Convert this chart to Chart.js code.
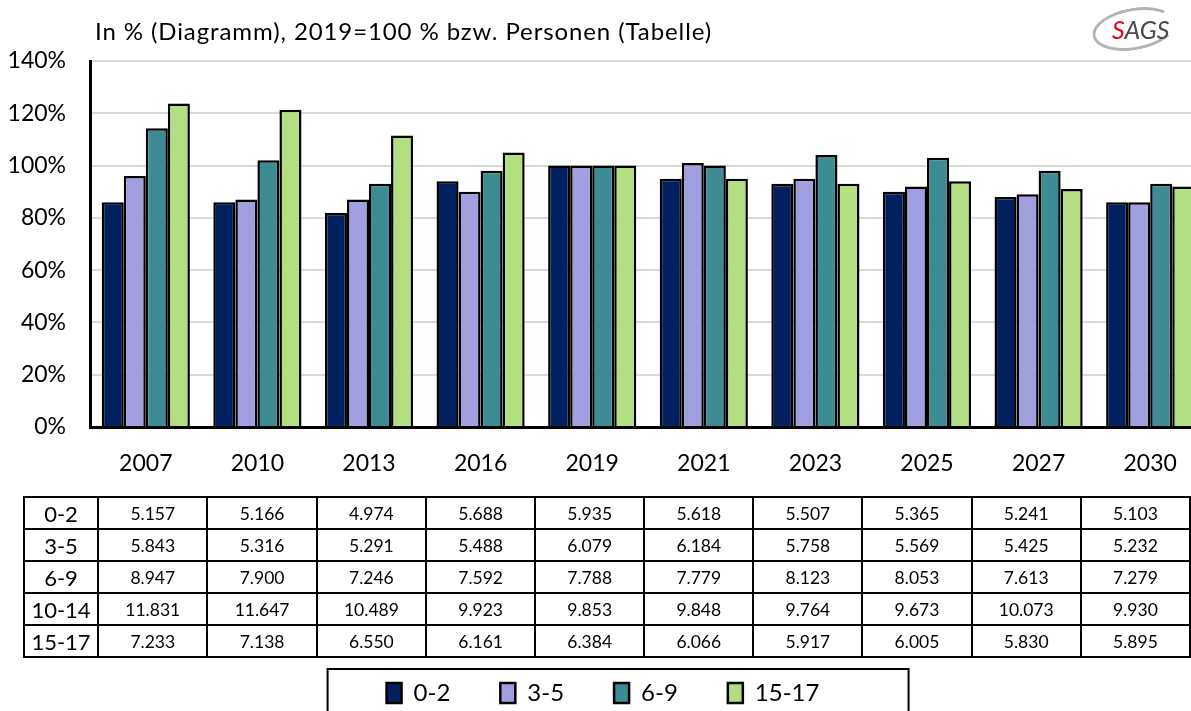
<!DOCTYPE html>
<html>
<head>
<meta charset="utf-8">
<script src="https://cdn.jsdelivr.net/npm/chart.js@4.4.1/dist/chart.umd.min.js"></script>
<style>
    html, body { margin: 0; padding: 0; background: #fff; overflow: hidden; width: 1191px; height: 711px; }
    body { position: relative; font-family: Lato, sans-serif; color: #000; }
    #wrap { position: absolute; left: 0; top: 0; width: 1206px; height: 715px; }
    #title { position: absolute; left: 95px; top: 16px; font-size: 24px; letter-spacing: 0.9px; white-space: nowrap; }
    #logo { position: absolute; left: 1112px; top: 14px; font-size: 25px; font-style: italic; color: #4a4a4a; }
    #logo .s { color: #e2001a; }
    #swoosh { position: absolute; left: 1092px; top: 8px; width: 78px; height: 36px;
        border: 3px solid #b4b4b4; border-right-color: transparent; border-radius: 50%; transform: rotate(-10deg); }
    #persons { position: absolute; left: 23px; top: 496px; border-collapse: collapse; table-layout: fixed; }
    #persons td { border: 2px solid #000; height: 30px; padding: 0; text-align: center; font-size: 17.5px; }
    #persons td.lbl { font-size: 22px; }
</style>
</head>
<body>
<div id="wrap"><canvas id="chart" width="1206" height="715"></canvas></div>
<div id="title">In % (Diagramm), 2019=100 % bzw. Personen (Tabelle)</div>
<div id="swoosh"></div>
<div id="logo"><span class="s">S</span>AGS</div>
<table id="persons"></table>
<script>
// x categories
const years = ['2007', '2010', '2013', '2016', '2019', '2021', '2023', '2025', '2027', '2030'];

// chart values in % (2019 = 100)
const pct0to2 = [86, 86, 82, 94, 100, 95, 93, 90, 88, 86];
const pct3to5 = [96, 87, 87, 90, 100, 101, 95, 92, 89, 86];
const pct6to9 = [114.3, 102, 93, 98, 100, 100, 104, 103, 98, 93];
const pct15to17 = [123.7, 121.4, 111.5, 105, 100, 95, 93, 94, 91, 92];

// table: persons per age group
const tableGroups = ['0-2', '3-5', '6-9', '10-14', '15-17'];
const persons0to2 = ['5.157', '5.166', '4.974', '5.688', '5.935', '5.618', '5.507', '5.365', '5.241', '5.103'];
const persons3to5 = ['5.843', '5.316', '5.291', '5.488', '6.079', '6.184', '5.758', '5.569', '5.425', '5.232'];
const persons6to9 = ['8.947', '7.900', '7.246', '7.592', '7.788', '7.779', '8.123', '8.053', '7.613', '7.279'];
const persons10to14 = ['11.831', '11.647', '10.489', '9.923', '9.853', '9.848', '9.764', '9.673', '10.073', '9.930'];
const persons15to17 = ['7.233', '7.138', '6.550', '6.161', '6.384', '6.066', '5.917', '6.005', '5.830', '5.895'];

const tickFont = { family: 'Lato', size: 23 };
const plotBottom = 427; // leave room below the axis for the table

function buildTable() {
    const table = document.getElementById('persons');
    const rows = [persons0to2, persons3to5, persons6to9, persons10to14, persons15to17];
    let html = '<colgroup><col style="width:75px">';
    years.forEach(() => { html += '<col style="width:110.6px">'; });
    html += '</colgroup>';
    rows.forEach((row, i) => {
        html += '<tr><td class="lbl">' + tableGroups[i] + '</td>';
        row.forEach(v => { html += '<td>' + v + '</td>'; });
        html += '</tr>';
    });
    table.innerHTML = html;
}

// frame around the legend, placed from the first legend item
const legendFrame = {
    id: 'legendFrame',
    afterDraw(chart) {
        const boxes = chart.legend && chart.legend.legendHitBoxes;
        if (!boxes || !boxes.length) return;
        const ctx = chart.ctx;
        ctx.save();
        ctx.strokeStyle = '#000';
        ctx.lineWidth = 2;
        ctx.strokeRect(boxes[0].left - 59, boxes[0].top - 12, 581, 100);
        ctx.restore();
    }
};

buildTable();

new Chart(document.getElementById('chart').getContext('2d'), {
    type: 'bar',
    data: {
        labels: years,
        datasets: [
            { label: '0-2', data: pct0to2, backgroundColor: '#002060' },
            { label: '3-5', data: pct3to5, backgroundColor: '#a09fdf' },
            { label: '6-9', data: pct6to9, backgroundColor: '#3e8c93' },
            { label: '15-17', data: pct15to17, backgroundColor: '#b3df82' }
        ]
    },
    options: {
        responsive: false,
        animation: false,
        devicePixelRatio: 1,
        layout: { padding: { top: 61, left: 0, right: 0, bottom: 0 } },
        datasets: {
            bar: { categoryPercentage: 0.79, barPercentage: 1, borderWidth: 2.5, borderColor: '#000' }
        },
        plugins: {
            legend: {
                position: 'bottom',
                labels: { boxWidth: 15, boxHeight: 20, padding: 50, color: '#000', font: { family: 'Lato', size: 24 } }
            },
            tooltip: { enabled: false }
        },
        scales: {
            x: {
                grid: { display: false, drawTicks: false },
                border: { color: '#000', width: 3 },
                ticks: { padding: 23, color: '#000', font: tickFont },
                afterFit(scale) {
                    const legendH = scale.chart.legend ? scale.chart.legend.height : 0;
                    scale.height = scale.chart.height - legendH - plotBottom;
                }
            },
            y: {
                min: 0,
                max: 140,
                ticks: { stepSize: 20, padding: 24, color: '#000', font: tickFont, callback: v => v + '%' },
                grid: { color: '#d9d9d9', lineWidth: 2, drawTicks: false },
                border: { color: '#000', width: 3 },
                afterFit(scale) { scale.width = 90; }
            }
        }
    },
    plugins: [legendFrame]
});
</script>
</body>
</html>
